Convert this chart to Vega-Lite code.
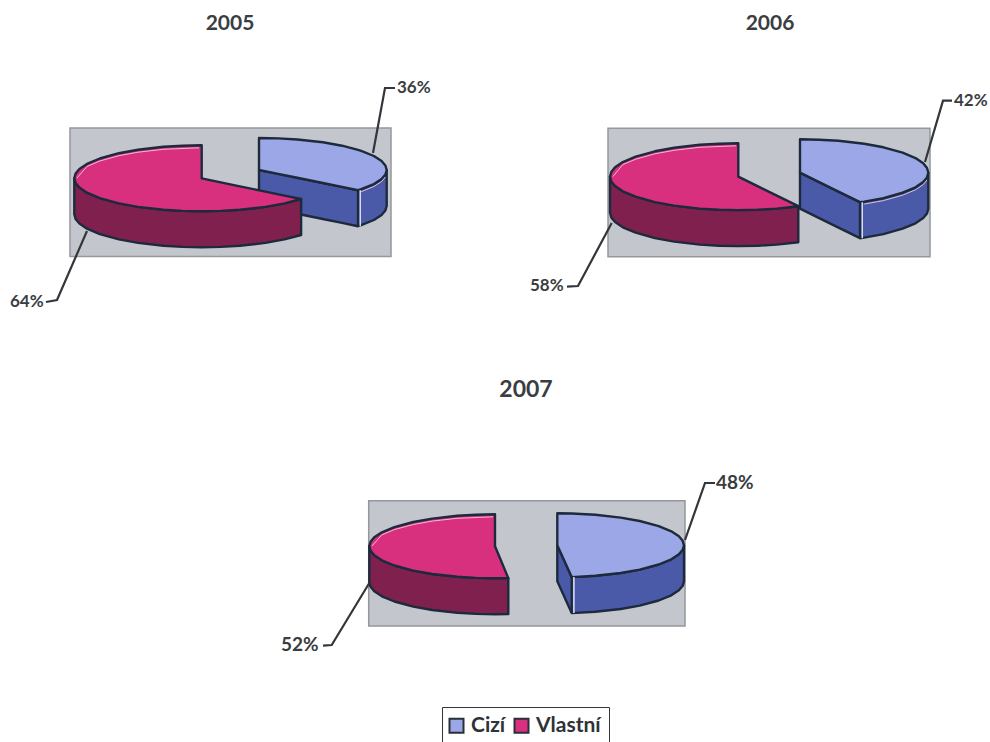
{
  "$schema": "https://vega.github.io/schema/vega-lite/v6.json",
  "width": 990,
  "height": 742,
  "padding": 0,
  "autosize": {"type": "none"},
  "background": "#ffffff",
  "config": {"view": {"stroke": null}},
  "datasets": {
    "panels": [
      {"pie": "2005", "x": 70, "x2": 391, "y": 128, "y2": 256.5},
      {"pie": "2006", "x": 608, "x2": 930, "y": 128.3, "y2": 256.7},
      {"pie": "2007", "x": 368.7, "x2": 685, "y": 500.7, "y2": 626}
    ],
    "slices": [
      {"pie": "2005", "series": "Cizí", "x": 259, "top": 138, "mid": 170, "bot": 206},
      {"pie": "2005", "series": "Cizí", "x": 278.2, "top": 138.4, "mid": 173.9, "bot": 209.9},
      {"pie": "2005", "series": "Cizí", "x": 297.3, "top": 139.5, "mid": 177.8, "bot": 213.8},
      {"pie": "2005", "series": "Cizí", "x": 322.9, "top": 142.3, "mid": 183, "bot": 219},
      {"pie": "2005", "series": "Cizí", "x": 342, "top": 145.7, "mid": 186.9, "bot": 222.9},
      {"pie": "2005", "series": "Cizí", "x": 358, "top": 149.8, "mid": 190.2, "bot": 226.2},
      {"pie": "2005", "series": "Cizí", "x": 361.2, "top": 150.8, "mid": 189.2, "bot": 225.2},
      {"pie": "2005", "series": "Cizí", "x": 373.9, "top": 156, "mid": 184, "bot": 220},
      {"pie": "2005", "series": "Cizí", "x": 381.6, "top": 161, "mid": 179, "bot": 215},
      {"pie": "2005", "series": "Cizí", "x": 385.4, "top": 165.5, "mid": 174.5, "bot": 210.5},
      {"pie": "2005", "series": "Cizí", "x": 386.7, "top": 170, "mid": 170, "bot": 206},

      {"pie": "2006", "series": "Cizí", "x": 800, "top": 139.3, "mid": 172.7, "bot": 208.7},
      {"pie": "2006", "series": "Cizí", "x": 819.2, "top": 139.7, "mid": 182.1, "bot": 218.1},
      {"pie": "2006", "series": "Cizí", "x": 838.5, "top": 140.8, "mid": 191.6, "bot": 227.6},
      {"pie": "2006", "series": "Cizí", "x": 860, "top": 143.2, "mid": 202.2, "bot": 238.2},
      {"pie": "2006", "series": "Cizí", "x": 864.2, "top": 143.8, "mid": 201.6, "bot": 237.6},
      {"pie": "2006", "series": "Cizí", "x": 883.4, "top": 147.3, "mid": 198.1, "bot": 234.1},
      {"pie": "2006", "series": "Cizí", "x": 902.6, "top": 152.7, "mid": 192.7, "bot": 228.7},
      {"pie": "2006", "series": "Cizí", "x": 915.5, "top": 158.1, "mid": 187.3, "bot": 223.3},
      {"pie": "2006", "series": "Cizí", "x": 923.2, "top": 163.3, "mid": 182.1, "bot": 218.1},
      {"pie": "2006", "series": "Cizí", "x": 927, "top": 168, "mid": 177.4, "bot": 213.4},
      {"pie": "2006", "series": "Cizí", "x": 928.3, "top": 172.7, "mid": 172.7, "bot": 208.7},

      {"pie": "2007", "series": "Cizí", "x": 557.3, "top": 513.3, "mid": 545.3, "bot": 581.3},
      {"pie": "2007", "series": "Cizí", "x": 571.7, "top": 513.5, "mid": 577.1, "bot": 613.1},
      {"pie": "2007", "series": "Cizí", "x": 595.3, "top": 514.8, "mid": 575.8, "bot": 611.8},
      {"pie": "2007", "series": "Cizí", "x": 620.7, "top": 517.6, "mid": 573, "bot": 609},
      {"pie": "2007", "series": "Cizí", "x": 639.7, "top": 521, "mid": 569.6, "bot": 605.6},
      {"pie": "2007", "series": "Cizí", "x": 658.7, "top": 526.1, "mid": 564.5, "bot": 600.5},
      {"pie": "2007", "series": "Cizí", "x": 671.3, "top": 531.3, "mid": 559.3, "bot": 595.3},
      {"pie": "2007", "series": "Cizí", "x": 678.9, "top": 536.3, "mid": 554.3, "bot": 590.3},
      {"pie": "2007", "series": "Cizí", "x": 682.7, "top": 540.8, "mid": 549.8, "bot": 585.8},
      {"pie": "2007", "series": "Cizí", "x": 684, "top": 545.3, "mid": 545.3, "bot": 581.3},

      {"pie": "2005", "series": "Vlastní", "x": 74.3, "top": 178.3, "mid": 178.3, "bot": 214.3},
      {"pie": "2005", "series": "Vlastní", "x": 75.6, "top": 173.6, "mid": 183, "bot": 219},
      {"pie": "2005", "series": "Vlastní", "x": 79.4, "top": 169.1, "mid": 187.5, "bot": 223.5},
      {"pie": "2005", "series": "Vlastní", "x": 87, "top": 163.9, "mid": 192.7, "bot": 228.7},
      {"pie": "2005", "series": "Vlastní", "x": 99.8, "top": 158.5, "mid": 198.1, "bot": 234.1},
      {"pie": "2005", "series": "Vlastní", "x": 118.9, "top": 153.2, "mid": 203.4, "bot": 239.4},
      {"pie": "2005", "series": "Vlastní", "x": 138, "top": 149.7, "mid": 206.9, "bot": 242.9},
      {"pie": "2005", "series": "Vlastní", "x": 163.5, "top": 146.8, "mid": 209.8, "bot": 245.8},
      {"pie": "2005", "series": "Vlastní", "x": 182.6, "top": 145.7, "mid": 210.9, "bot": 246.9},
      {"pie": "2005", "series": "Vlastní", "x": 201.7, "top": 145.3, "mid": 211.3, "bot": 247.3},
      {"pie": "2005", "series": "Vlastní", "x": 201.7, "top": 178.3, "mid": 211.3, "bot": 247.3},
      {"pie": "2005", "series": "Vlastní", "x": 220.8, "top": 182.3, "mid": 210.9, "bot": 246.9},
      {"pie": "2005", "series": "Vlastní", "x": 239.9, "top": 186.3, "mid": 209.8, "bot": 245.8},
      {"pie": "2005", "series": "Vlastní", "x": 265.4, "top": 191.6, "mid": 206.9, "bot": 242.9},
      {"pie": "2005", "series": "Vlastní", "x": 284.5, "top": 195.6, "mid": 203.4, "bot": 239.4},
      {"pie": "2005", "series": "Vlastní", "x": 301.1, "top": 199, "mid": 199, "bot": 235},

      {"pie": "2006", "series": "Vlastní", "x": 610, "top": 176.7, "mid": 176.7, "bot": 212.7},
      {"pie": "2006", "series": "Vlastní", "x": 611.3, "top": 172, "mid": 181.4, "bot": 217.4},
      {"pie": "2006", "series": "Vlastní", "x": 615.1, "top": 167.3, "mid": 186.1, "bot": 222.1},
      {"pie": "2006", "series": "Vlastní", "x": 622.8, "top": 162.1, "mid": 191.3, "bot": 227.3},
      {"pie": "2006", "series": "Vlastní", "x": 635.7, "top": 156.7, "mid": 196.7, "bot": 232.7},
      {"pie": "2006", "series": "Vlastní", "x": 654.9, "top": 151.3, "mid": 202.1, "bot": 238.1},
      {"pie": "2006", "series": "Vlastní", "x": 674.2, "top": 147.8, "mid": 205.6, "bot": 241.6},
      {"pie": "2006", "series": "Vlastní", "x": 699.8, "top": 144.8, "mid": 208.6, "bot": 244.6},
      {"pie": "2006", "series": "Vlastní", "x": 719.1, "top": 143.7, "mid": 209.7, "bot": 245.7},
      {"pie": "2006", "series": "Vlastní", "x": 738.3, "top": 143.3, "mid": 210.1, "bot": 246.1},
      {"pie": "2006", "series": "Vlastní", "x": 738.3, "top": 176.7, "mid": 210.1, "bot": 246.1},
      {"pie": "2006", "series": "Vlastní", "x": 757.5, "top": 186.1, "mid": 209.7, "bot": 245.7},
      {"pie": "2006", "series": "Vlastní", "x": 776.8, "top": 195.6, "mid": 208.6, "bot": 244.6},
      {"pie": "2006", "series": "Vlastní", "x": 798.3, "top": 206.2, "mid": 206.2, "bot": 242.2},

      {"pie": "2007", "series": "Vlastní", "x": 369.3, "top": 546.3, "mid": 546.3, "bot": 582.3},
      {"pie": "2007", "series": "Vlastní", "x": 370.6, "top": 541.8, "mid": 550.8, "bot": 586.8},
      {"pie": "2007", "series": "Vlastní", "x": 374.3, "top": 537.3, "mid": 555.3, "bot": 591.3},
      {"pie": "2007", "series": "Vlastní", "x": 381.9, "top": 532.3, "mid": 560.3, "bot": 596.3},
      {"pie": "2007", "series": "Vlastní", "x": 394.4, "top": 527.1, "mid": 565.5, "bot": 601.5},
      {"pie": "2007", "series": "Vlastní", "x": 413.3, "top": 522, "mid": 570.6, "bot": 606.6},
      {"pie": "2007", "series": "Vlastní", "x": 432.2, "top": 518.6, "mid": 574, "bot": 610},
      {"pie": "2007", "series": "Vlastní", "x": 457.3, "top": 515.8, "mid": 576.8, "bot": 612.8},
      {"pie": "2007", "series": "Vlastní", "x": 476.1, "top": 514.7, "mid": 577.9, "bot": 613.9},
      {"pie": "2007", "series": "Vlastní", "x": 495, "top": 514.3, "mid": 578.3, "bot": 614.3},
      {"pie": "2007", "series": "Vlastní", "x": 495, "top": 546.3, "mid": 578.3, "bot": 614.3},
      {"pie": "2007", "series": "Vlastní", "x": 508.3, "top": 578.1, "mid": 578.1, "bot": 614.1}
    ],
    "creases": [
      {"pie": "2005", "x": 358, "y": 190.2, "y2": 226.2},
      {"pie": "2006", "x": 860, "y": 202.2, "y2": 238.2},
      {"pie": "2007", "x": 571.7, "y": 577.1, "y2": 613.1}
    ],
    "glints": [
      {"edge": "2005 horní", "x": 77, "y": 178},
      {"edge": "2005 horní", "x": 87, "y": 166.5},
      {"edge": "2005 horní", "x": 99.8, "y": 161},
      {"edge": "2005 horní", "x": 118.9, "y": 155.7},
      {"edge": "2005 horní", "x": 138, "y": 152.2},
      {"edge": "2005 horní", "x": 163.5, "y": 149.3},
      {"edge": "2005 horní", "x": 199, "y": 147.8},
      {"edge": "2006 horní", "x": 613, "y": 176.5},
      {"edge": "2006 horní", "x": 622.8, "y": 164.6},
      {"edge": "2006 horní", "x": 635.7, "y": 159.2},
      {"edge": "2006 horní", "x": 654.9, "y": 153.8},
      {"edge": "2006 horní", "x": 674.2, "y": 150.3},
      {"edge": "2006 horní", "x": 699.8, "y": 147.3},
      {"edge": "2006 horní", "x": 736, "y": 145.8},
      {"edge": "2007 horní", "x": 372, "y": 546},
      {"edge": "2007 horní", "x": 381.9, "y": 534.8},
      {"edge": "2007 horní", "x": 394.4, "y": 529.6},
      {"edge": "2007 horní", "x": 413.3, "y": 524.5},
      {"edge": "2007 horní", "x": 432.2, "y": 521.1},
      {"edge": "2007 horní", "x": 457.3, "y": 518.3},
      {"edge": "2007 horní", "x": 493, "y": 516.8},
      {"edge": "2005 okraj", "x": 361.2, "y": 191.7},
      {"edge": "2005 okraj", "x": 373.9, "y": 186.5},
      {"edge": "2005 okraj", "x": 381.6, "y": 181.5},
      {"edge": "2005 okraj", "x": 385.4, "y": 177},
      {"edge": "2006 okraj", "x": 864.2, "y": 204.1},
      {"edge": "2006 okraj", "x": 883.4, "y": 200.6},
      {"edge": "2006 okraj", "x": 902.6, "y": 195.2},
      {"edge": "2006 okraj", "x": 915.5, "y": 189.8},
      {"edge": "2006 okraj", "x": 923.2, "y": 184.6},
      {"edge": "2006 okraj", "x": 927, "y": 179.9}
    ],
    "leaders": [
      {"label": "2005 Cizí", "x": 373, "y": 153},
      {"label": "2005 Cizí", "x": 385, "y": 88},
      {"label": "2005 Cizí", "x": 395, "y": 88},
      {"label": "2005 Vlastní", "x": 46, "y": 302},
      {"label": "2005 Vlastní", "x": 57, "y": 300},
      {"label": "2005 Vlastní", "x": 87, "y": 231},
      {"label": "2006 Cizí", "x": 925, "y": 162},
      {"label": "2006 Cizí", "x": 943, "y": 100.7},
      {"label": "2006 Cizí", "x": 952, "y": 100.7},
      {"label": "2006 Vlastní", "x": 567, "y": 286.7},
      {"label": "2006 Vlastní", "x": 578, "y": 286},
      {"label": "2006 Vlastní", "x": 611.7, "y": 223},
      {"label": "2007 Cizí", "x": 685, "y": 540},
      {"label": "2007 Cizí", "x": 705, "y": 483},
      {"label": "2007 Cizí", "x": 715, "y": 483},
      {"label": "2007 Vlastní", "x": 323, "y": 645.7},
      {"label": "2007 Vlastní", "x": 331.7, "y": 645},
      {"label": "2007 Vlastní", "x": 369.3, "y": 583}
    ],
    "shares": [
      {"pie": "2005", "series": "Cizí", "share": 0.36, "x": 397, "y": 88},
      {"pie": "2005", "series": "Vlastní", "share": 0.64, "x": 10, "y": 302},
      {"pie": "2006", "series": "Cizí", "share": 0.42, "x": 954, "y": 101},
      {"pie": "2006", "series": "Vlastní", "share": 0.58, "x": 530, "y": 286},
      {"pie": "2007", "series": "Cizí", "share": 0.48, "x": 716, "y": 483},
      {"pie": "2007", "series": "Vlastní", "share": 0.52, "x": 281, "y": 645}
    ],
    "titles": [
      {"pie": "2005", "x": 230, "y": 24},
      {"pie": "2006", "x": 770, "y": 24},
      {"pie": "2007", "x": 526, "y": 390}
    ]
  },
  "encoding": {
    "x": {"type": "quantitative", "scale": {"domain": [0, 990], "nice": false, "zero": false}, "axis": null},
    "y": {"type": "quantitative", "scale": {"domain": [742, 0], "nice": false, "zero": false}, "axis": null}
  },
  "layer": [
    {
      "data": {"name": "panels"},
      "mark": {"type": "rect", "fill": "#c3c7cd", "stroke": "#94989c", "strokeWidth": 1.5},
      "encoding": {
        "x": {"field": "x"},
        "x2": {"field": "x2"},
        "y": {"field": "y"},
        "y2": {"field": "y2"}
      }
    },
    {
      "data": {"name": "slices"},
      "mark": {"type": "area", "stroke": "#1d2a3c", "strokeWidth": 2.4, "strokeJoin": "round", "opacity": 1},
      "encoding": {
        "x": {"field": "x"},
        "y": {"field": "mid"},
        "y2": {"field": "bot"},
        "detail": {"field": "pie"},
        "color": {
          "field": "series",
          "type": "nominal",
          "legend": null,
          "scale": {"domain": ["Cizí", "Vlastní"], "range": ["#4b59a9", "#80204f"]}
        }
      }
    },
    {
      "data": {"name": "slices"},
      "mark": {"type": "area", "stroke": "#1d2a3c", "strokeWidth": 2.4, "strokeJoin": "round", "opacity": 1},
      "encoding": {
        "x": {"field": "x"},
        "y": {"field": "top"},
        "y2": {"field": "mid"},
        "detail": {"field": "pie"},
        "color": {
          "field": "series",
          "type": "nominal",
          "scale": {"domain": ["Cizí", "Vlastní"], "range": ["#9ba7e6", "#d92f7f"]},
          "legend": {
            "orient": "none",
            "legendX": 442,
            "legendY": 707,
            "direction": "horizontal",
            "title": null,
            "symbolType": "square",
            "symbolSize": 196,
            "symbolOffset": -4,
            "symbolStrokeColor": "#2a2f3a",
            "symbolStrokeWidth": 2,
            "symbolOpacity": 1,
            "labelFont": "Lato",
            "labelFontWeight": "bold",
            "labelFontSize": 21,
            "labelColor": "#2f3236",
            "labelOffset": 4,
            "columnPadding": 4,
            "padding": 8,
            "fillColor": "#ffffff",
            "strokeColor": "#33363a",
            "encoding": {"legend": {"update": {"strokeWidth": {"value": 2}}}}
          }
        }
      }
    },
    {
      "data": {"name": "glints"},
      "mark": {"type": "line", "stroke": "#efc9dc", "strokeWidth": 1, "opacity": 0.9},
      "encoding": {
        "x": {"field": "x"},
        "y": {"field": "y"},
        "detail": {"field": "edge"}
      }
    },
    {
      "data": {"name": "creases"},
      "mark": {"type": "rule", "stroke": "#dfe3f5", "strokeWidth": 1.5, "xOffset": 2.2},
      "encoding": {
        "x": {"field": "x"},
        "y": {"field": "y"},
        "y2": {"field": "y2"}
      }
    },
    {
      "data": {"name": "creases"},
      "mark": {"type": "rule", "stroke": "#1d2a3c", "strokeWidth": 2.4},
      "encoding": {
        "x": {"field": "x"},
        "y": {"field": "y"},
        "y2": {"field": "y2"}
      }
    },
    {
      "data": {"name": "leaders"},
      "mark": {"type": "line", "stroke": "#33363a", "strokeWidth": 2.2},
      "encoding": {
        "x": {"field": "x"},
        "y": {"field": "y"},
        "detail": {"field": "label"}
      }
    },
    {
      "data": {"name": "shares"},
      "mark": {"type": "text", "align": "left", "baseline": "middle", "font": "Lato", "fontWeight": "bold", "color": "#3a3d41"},
      "encoding": {
        "x": {"field": "x"},
        "y": {"field": "y"},
        "text": {"field": "share", "type": "quantitative", "format": ".0%"},
        "size": {"condition": {"test": "datum.pie === '2007'", "value": 19}, "value": 17}
      }
    },
    {
      "data": {"name": "titles"},
      "mark": {"type": "text", "align": "center", "baseline": "middle", "font": "Lato", "fontWeight": "bold", "color": "#3a3d41"},
      "encoding": {
        "x": {"field": "x"},
        "y": {"field": "y"},
        "text": {"field": "pie", "type": "nominal"},
        "size": {"condition": {"test": "datum.pie === '2007'", "value": 23}, "value": 21}
      }
    }
  ],
  "resolve": {"scale": {"color": "independent"}}
}
